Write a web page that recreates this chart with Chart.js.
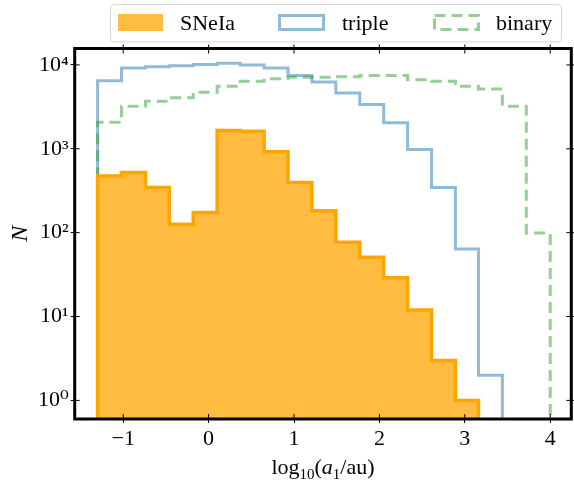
<!DOCTYPE html>
<html>
<head>
<meta charset="utf-8">
<script src="https://cdn.jsdelivr.net/npm/chart.js@4.4.1/dist/chart.umd.min.js"></script>
<style>
  body { margin: 0; background: #fff; }
  #wrap { width: 574px; height: 481px; }
</style>
</head>
<body>
<div id="wrap"><canvas id="hist" width="574" height="481"></canvas></div>
<script>
// bin edges in log10(a1/au)
const binEdges = [-1.30, -1.02, -0.74, -0.46, -0.18, 0.10, 0.37, 0.65, 0.93, 1.21,
                  1.49, 1.77, 2.05, 2.33, 2.61, 2.89, 3.16, 3.44, 3.72, 4.00];

// counts per bin
const sneiaCounts = [474, 520, 345, 126, 174, 1650, 1620, 920, 396, 182, 77, 51, 29, 12, 3, 1];
const tripleCounts = [6490, 9190, 9520, 9780, 10100, 10500, 10000, 9190, 7500, 6270,
                      4640, 3370, 2040, 984, 345, 64, 2];
const binaryCounts = [2075, 3215, 3690, 4050, 4720, 5560, 6370, 6860, 7110, 7110,
                      7240, 7500, 7500, 6670, 6370, 5560, 5170, 3215, 99];

const seriesNames = ['SNeIa', 'triple', 'binary'];

const xTickValues = [-1, 0, 1, 2, 3, 4];
const xTickLabels = ['\u22121', '0', '1', '2', '3', '4'];
const yTickValues = [1, 10, 100, 1000, 10000];
const yTickLabels = ['10\u2070', '10\u00b9', '10\u00b2', '10\u00b3', '10\u2074'];

const FONT = '"Liberation Serif", "DejaVu Serif", serif';
const ORANGE = 'rgb(255,165,0)';
const ORANGE_FILL = 'rgba(255,165,0,0.75)';
const BLUE = 'rgba(31,119,180,0.5)';
const GREEN = 'rgba(44,160,44,0.5)';

// turn counts into an outline that starts and ends on the floor
function stepPoints(counts) {
    const pts = [{ x: binEdges[0], y: 0.1 }];
    counts.forEach((c, i) => pts.push({ x: binEdges[i], y: c }));
    pts.push({ x: binEdges[counts.length], y: counts[counts.length - 1] });
    pts.push({ x: binEdges[counts.length], y: 0.1 });
    return pts;
}

// ticks on all four sides, pointing in and out, plus the frame
const frameTicks = {
    id: 'frameTicks',
    afterDraw(chart) {
        const { ctx, chartArea: a, scales } = chart;
        ctx.save();
        ctx.strokeStyle = '#000';
        ctx.lineWidth = 1;
        ctx.beginPath();
        xTickValues.forEach(v => {
            const px = scales.x.getPixelForValue(v);
            ctx.moveTo(px, a.bottom - 5); ctx.lineTo(px, a.bottom);
            ctx.moveTo(px, a.top - 4); ctx.lineTo(px, a.top + 5);
        });
        yTickValues.forEach(v => {
            const py = scales.y.getPixelForValue(v);
            ctx.moveTo(a.left, py); ctx.lineTo(a.left + 5, py);
            ctx.moveTo(a.right - 5, py); ctx.lineTo(a.right + 4, py);
        });
        ctx.stroke();
        ctx.lineWidth = 3;
        ctx.strokeRect(a.left, a.top, a.right - a.left, a.bottom - a.top);
        ctx.restore();
    }
};

// x title with sub-scripts and italic a
const xTitle = {
    id: 'xTitle',
    afterDraw(chart) {
        const { ctx, chartArea: a } = chart;
        const parts = [
            { t: 'log', f: `22px ${FONT}`, dy: 0 },
            { t: '10', f: `15px ${FONT}`, dy: 5 },
            { t: '(', f: `22px ${FONT}`, dy: 0 },
            { t: 'a', f: `italic 22px ${FONT}`, dy: 0 },
            { t: '1', f: `15px ${FONT}`, dy: 5 },
            { t: '/au)', f: `22px ${FONT}`, dy: 0 }
        ];
        ctx.save();
        ctx.fillStyle = '#000';
        ctx.textBaseline = 'alphabetic';
        let total = 0;
        parts.forEach(p => { ctx.font = p.f; p.w = ctx.measureText(p.t).width; total += p.w; });
        let x = (a.left + a.right) / 2 - total / 2;
        parts.forEach(p => {
            ctx.font = p.f;
            ctx.fillText(p.t, x, 474 + p.dy);
            x += p.w;
        });
        ctx.restore();
    }
};

// legend box above the axes
const topLegend = {
    id: 'topLegend',
    afterDraw(chart) {
        const { ctx } = chart;
        ctx.save();
        ctx.fillStyle = 'rgba(255,255,255,0.8)';
        ctx.strokeStyle = '#d6d6d6';
        ctx.lineWidth = 1;
        ctx.beginPath();
        ctx.roundRect(110.5, 4.5, 451, 37.5, 4);
        ctx.fill();
        ctx.stroke();

        const boxes = [118, 278, 433];
        const texts = [180, 342, 496];
        ctx.fillStyle = ORANGE_FILL;
        ctx.fillRect(boxes[0], 14, 45, 17);

        ctx.strokeStyle = BLUE;
        ctx.lineWidth = 3;
        ctx.strokeRect(boxes[1] + 1.5, 15.5, 44, 14);

        ctx.strokeStyle = GREEN;
        ctx.setLineDash([11, 6]);
        ctx.strokeRect(boxes[2] + 1.5, 15.5, 44, 14);
        ctx.setLineDash([]);

        ctx.fillStyle = '#000';
        ctx.font = `22px ${FONT}`;
        ctx.textBaseline = 'alphabetic';
        seriesNames.forEach((n, i) => ctx.fillText(n, texts[i], 30));
        ctx.restore();
    }
};

document.addEventListener('DOMContentLoaded', () => {
    const ctx = document.getElementById('hist').getContext('2d');
    new Chart(ctx, {
        type: 'line',
        data: {
            datasets: [
                {
                    label: seriesNames[0],
                    data: stepPoints(sneiaCounts),
                    stepped: 'before',
                    borderColor: ORANGE,
                    backgroundColor: ORANGE_FILL,
                    borderWidth: 3.5,
                    fill: 'start',
                    pointRadius: 0,
                    order: 0
                },
                {
                    label: seriesNames[1],
                    data: stepPoints(tripleCounts),
                    stepped: 'before',
                    borderColor: BLUE,
                    borderWidth: 3,
                    fill: false,
                    pointRadius: 0,
                    order: 2
                },
                {
                    label: seriesNames[2],
                    data: stepPoints(binaryCounts),
                    stepped: 'before',
                    borderColor: GREEN,
                    borderWidth: 3,
                    borderDash: [11, 6],
                    fill: false,
                    pointRadius: 0,
                    order: 1
                }
            ]
        },
        options: {
            responsive: false,
            animation: false,
            events: [],
            layout: { padding: { top: 48.5, right: 2.7, left: 0, bottom: 0 } },
            plugins: { legend: { display: false }, tooltip: { enabled: false } },
            scales: {
                x: {
                    type: 'linear',
                    min: -1.568,
                    max: 4.247,
                    afterBuildTicks: s => { s.ticks = xTickValues.map(v => ({ value: v })); },
                    afterFit: s => { s.height = 62; },
                    grid: { drawOnChartArea: false, drawTicks: true, tickLength: 4, color: '#000' },
                    border: { display: false },
                    ticks: {
                        color: '#000',
                        padding: 3,
                        maxRotation: 0,
                        font: { family: FONT, size: 22 },
                        callback: (v, i) => xTickLabels[i]
                    }
                },
                y: {
                    type: 'logarithmic',
                    min: 0.634,
                    max: 15700,
                    afterBuildTicks: s => { s.ticks = yTickValues.map(v => ({ value: v })); },
                    afterFit: s => { s.width = 74.7; },
                    grid: { drawOnChartArea: false, drawTicks: true, tickLength: 4, color: '#000' },
                    border: { display: false },
                    title: {
                        display: true,
                        text: 'N',
                        color: '#000',
                        padding: { top: 6, bottom: 0 },
                        font: { family: FONT, size: 24, style: 'italic' }
                    },
                    ticks: {
                        color: '#000',
                        padding: 2,
                        font: { family: FONT, size: 22 },
                        callback: (v, i) => yTickLabels[i]
                    }
                }
            }
        },
        plugins: [frameTicks, xTitle, topLegend]
    });
});
</script>
</body>
</html>
